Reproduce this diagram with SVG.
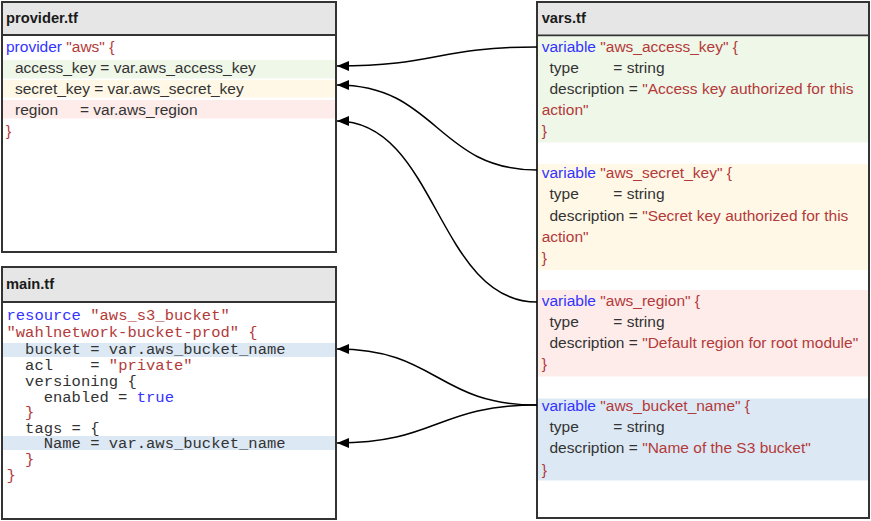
<svg xmlns="http://www.w3.org/2000/svg" width="871" height="521" viewBox="0 0 871 521">
<style>
.box{fill:#ffffff;stroke:#333333;stroke-width:2}
.hdr{fill:#e6e6e6;stroke:#333333;stroke-width:2}
.ht{font-family:"Liberation Sans",Arial,sans-serif;font-weight:bold;font-size:14.7px;fill:#1a1a1a}
.t{font-family:"Liberation Sans",Arial,sans-serif;font-size:15.5px;fill:#333333}
.m{font-family:"Liberation Mono","Courier New",monospace;font-size:15.5px;fill:#333333}
.k{fill:#3333ff}
.s{fill:#b33a3a}
.g{fill:#eff7e8}
.y{fill:#fff8e7}
.p{fill:#fdecea}
.b{fill:#dce9f5}
.c{fill:none;stroke:#000000;stroke-width:1.5}
</style>
<defs>
<marker id="ah" markerWidth="13" markerHeight="10" refX="12" refY="5" orient="auto" markerUnits="userSpaceOnUse">
<path d="M0,0 L12,5 L0,10 Z" fill="#000000"/>
</marker>
</defs>

<g id="provider">
<rect class="box" x="2" y="2" width="334" height="250"/>
<rect class="hdr" x="2" y="2" width="334" height="33"/>
<text class="ht" x="6" y="23">provider.tf</text>
<rect class="g" x="3" y="60" width="332" height="18.5"/>
<rect class="y" x="3" y="80" width="332" height="17.5"/>
<rect class="p" x="3" y="100" width="332" height="18.5"/>
<text class="t" x="6" y="52"><tspan class="k">provider</tspan><tspan class="s"> "aws" {</tspan></text>
<text class="t" x="15" y="73">access_key = var.aws_access_key</text>
<text class="t" x="15" y="94">secret_key = var.aws_secret_key</text>
<text class="t" x="15" y="115">region</text>
<text class="t" x="80" y="115">= var.aws_region</text>
<text class="t s" x="6" y="136">}</text>
</g>

<g id="main">
<rect class="box" x="2" y="267" width="334" height="252"/>
<rect class="hdr" x="2" y="267" width="334" height="35"/>
<text class="ht" x="6" y="289">main.tf</text>
<rect class="b" x="3" y="343" width="332" height="14"/>
<rect class="b" x="3" y="436" width="332" height="14"/>
<text class="m" x="6.5" y="319.5" xml:space="preserve"><tspan class="k">resource</tspan><tspan class="s"> "aws_s3_bucket"</tspan></text>
<text class="m s" x="6.5" y="336.5" xml:space="preserve">"wahlnetwork-bucket-prod" {</text>
<text class="m" x="6.5" y="354" xml:space="preserve">  bucket = var.aws_bucket_name</text>
<text class="m" x="6.5" y="370" xml:space="preserve">  acl    = <tspan class="s">"private"</tspan></text>
<text class="m" x="6.5" y="385.5" xml:space="preserve">  versioning {</text>
<text class="m" x="6.5" y="401.5" xml:space="preserve">    enabled = <tspan class="k">true</tspan></text>
<text class="m s" x="6.5" y="417" xml:space="preserve">  }</text>
<text class="m" x="6.5" y="432.5" xml:space="preserve">  tags = {</text>
<text class="m" x="6.5" y="448" xml:space="preserve">    Name = var.aws_bucket_name</text>
<text class="m s" x="6.5" y="464" xml:space="preserve">  }</text>
<text class="m s" x="6.5" y="479.5" xml:space="preserve">}</text>
</g>

<g id="vars">
<rect class="box" x="537" y="2" width="332" height="516"/>
<rect class="hdr" x="537" y="2" width="332" height="33.5"/>
<text class="ht" x="541.7" y="23">vars.tf</text>
<rect class="g" x="538" y="36.5" width="330" height="106"/>
<rect class="y" x="538" y="164" width="330" height="106"/>
<rect class="p" x="538" y="290" width="330" height="86.5"/>
<rect class="b" x="538" y="398.5" width="330" height="82"/>

<text class="t" x="541.7" y="51.7"><tspan class="k">variable</tspan><tspan class="s"> "aws_access_key" {</tspan></text>
<text class="t" x="549.5" y="72.7">type</text>
<text class="t" x="613.3" y="72.7">= string</text>
<text class="t" x="549.5" y="94">description = <tspan class="s">"Access key authorized for this</tspan></text>
<text class="t s" x="541.7" y="115">action"</text>
<text class="t s" x="541.7" y="136">}</text>

<text class="t" x="541.7" y="178.3"><tspan class="k">variable</tspan><tspan class="s"> "aws_secret_key" {</tspan></text>
<text class="t" x="549.5" y="199.3">type</text>
<text class="t" x="613.3" y="199.3">= string</text>
<text class="t" x="549.5" y="220.7">description = <tspan class="s">"Secret key authorized for this</tspan></text>
<text class="t s" x="541.7" y="241.7">action"</text>
<text class="t s" x="541.7" y="263">}</text>

<text class="t" x="541.7" y="306"><tspan class="k">variable</tspan><tspan class="s"> "aws_region" {</tspan></text>
<text class="t" x="549.5" y="326.7">type</text>
<text class="t" x="613.3" y="326.7">= string</text>
<text class="t" x="549.5" y="347.7">description = <tspan class="s">"Default region for root module"</tspan></text>
<text class="t s" x="541.7" y="369">}</text>

<text class="t" x="541.7" y="411"><tspan class="k">variable</tspan><tspan class="s"> "aws_bucket_name" {</tspan></text>
<text class="t" x="549.5" y="432.3">type</text>
<text class="t" x="613.3" y="432.3">= string</text>
<text class="t" x="549.5" y="453.3">description = <tspan class="s">"Name of the S3 bucket"</tspan></text>
<text class="t s" x="541.7" y="474.5">}</text>
</g>

<g id="connectors">
<path class="c" d="M537,47 C437,47 437,66 337,66" marker-end="url(#ah)"/>
<path class="c" d="M537,170 C437,170 437,85 337,85" marker-end="url(#ah)"/>
<path class="c" d="M537,302 C437,302 437,121 337,121" marker-end="url(#ah)"/>
<path class="c" d="M537,405 C437,405 437,349 337,349" marker-end="url(#ah)"/>
<path class="c" d="M537,405 C437,405 437,443 337,443" marker-end="url(#ah)"/>
</g>
</svg>
